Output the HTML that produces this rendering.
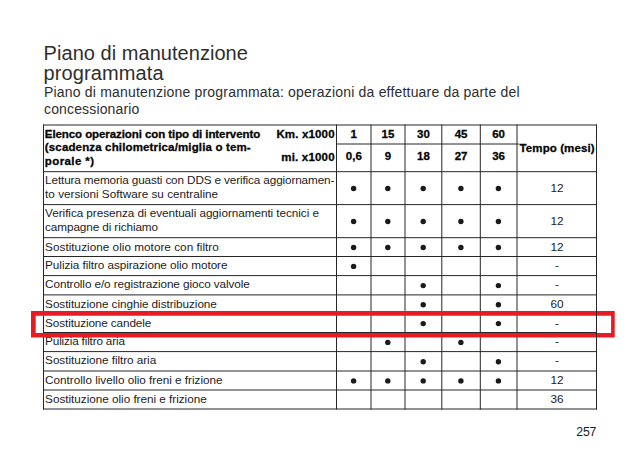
<!DOCTYPE html>
<html><head><meta charset="utf-8"><style>
html,body{margin:0;padding:0;background:#fff;width:640px;height:462px;overflow:hidden}
svg{display:block;font-family:"Liberation Sans", sans-serif}
</style></head><body>
<svg width="640" height="462" viewBox="0 0 640 462">
<g stroke="#262626" stroke-width="1">
<line x1="43.0" y1="125.0" x2="597.0" y2="125.0"/>
<line x1="43.0" y1="171.7" x2="597.0" y2="171.7"/>
<line x1="43.0" y1="204.6" x2="597.0" y2="204.6"/>
<line x1="43.0" y1="237.7" x2="597.0" y2="237.7"/>
<line x1="43.0" y1="256.5" x2="597.0" y2="256.5"/>
<line x1="43.0" y1="275.6" x2="597.0" y2="275.6"/>
<line x1="43.0" y1="294.9" x2="597.0" y2="294.9"/>
<line x1="43.0" y1="313.9" x2="597.0" y2="313.9"/>
<line x1="43.0" y1="332.5" x2="597.0" y2="332.5"/>
<line x1="43.0" y1="351.6" x2="597.0" y2="351.6"/>
<line x1="43.0" y1="371.0" x2="597.0" y2="371.0"/>
<line x1="43.0" y1="390.0" x2="597.0" y2="390.0"/>
<line x1="43.0" y1="409.0" x2="597.0" y2="409.0"/>
<line x1="336.5" y1="144.0" x2="518.8" y2="144.0"/>
<line x1="43.5" y1="124.5" x2="43.5" y2="409.5"/>
<line x1="336.5" y1="124.5" x2="336.5" y2="409.5"/>
<line x1="371.0" y1="124.5" x2="371.0" y2="409.5"/>
<line x1="405.0" y1="124.5" x2="405.0" y2="409.5"/>
<line x1="441.8" y1="124.5" x2="441.8" y2="409.5"/>
<line x1="480.3" y1="124.5" x2="480.3" y2="409.5"/>
<line x1="517.0" y1="124.5" x2="517.0" y2="409.5"/>
<line x1="596.5" y1="124.5" x2="596.5" y2="409.5"/>
</g>
<text x="43.6" y="60" font-size="20" fill="#2e2e2e" textLength="204.29" lengthAdjust="spacing">Piano di manutenzione</text>
<text x="43.6" y="80.1" font-size="20" fill="#2e2e2e" textLength="119.94" lengthAdjust="spacing">programmata</text>
<text x="44.0" y="96.6" font-size="14" fill="#2e2e2e" textLength="475.55" lengthAdjust="spacing">Piano di manutenzione programmata: operazioni da effettuare da parte del</text>
<text x="44.0" y="113.5" font-size="14" fill="#2e2e2e" textLength="95.35" lengthAdjust="spacing">concessionario</text>
<text x="44.8" y="137.5" font-size="11.5" font-weight="bold" fill="#050505" stroke="#050505" stroke-width="0.3" textLength="215.39" lengthAdjust="spacing">Elenco operazioni con tipo di intervento</text>
<text x="44.8" y="151.25" font-size="11.5" font-weight="bold" fill="#050505" stroke="#050505" stroke-width="0.3" textLength="205.9" lengthAdjust="spacing">(scadenza chilometrica/miglia o tem-</text>
<text x="44.8" y="165" font-size="11.5" font-weight="bold" fill="#050505" stroke="#050505" stroke-width="0.3" textLength="49.25" lengthAdjust="spacing">porale *)</text>
<text x="276.4" y="138" font-size="11.5" font-weight="bold" fill="#050505" stroke="#050505" stroke-width="0.3" textLength="58.18" lengthAdjust="spacing">Km. x1000</text>
<text x="281.2" y="160.5" font-size="11.5" font-weight="bold" fill="#050505" stroke="#050505" stroke-width="0.3" textLength="53.41" lengthAdjust="spacing">mi. x1000</text>
<text x="353.8" y="138" font-size="11.5" font-weight="bold" text-anchor="middle" fill="#050505" stroke="#050505" stroke-width="0.3">1</text>
<text x="353.8" y="160.1" font-size="11.5" font-weight="bold" text-anchor="middle" fill="#050505" stroke="#050505" stroke-width="0.3">0,6</text>
<text x="388.0" y="138" font-size="11.5" font-weight="bold" text-anchor="middle" fill="#050505" stroke="#050505" stroke-width="0.3">15</text>
<text x="388.0" y="160.1" font-size="11.5" font-weight="bold" text-anchor="middle" fill="#050505" stroke="#050505" stroke-width="0.3">9</text>
<text x="423.4" y="138" font-size="11.5" font-weight="bold" text-anchor="middle" fill="#050505" stroke="#050505" stroke-width="0.3">30</text>
<text x="423.4" y="160.1" font-size="11.5" font-weight="bold" text-anchor="middle" fill="#050505" stroke="#050505" stroke-width="0.3">18</text>
<text x="461.1" y="138" font-size="11.5" font-weight="bold" text-anchor="middle" fill="#050505" stroke="#050505" stroke-width="0.3">45</text>
<text x="461.1" y="160.1" font-size="11.5" font-weight="bold" text-anchor="middle" fill="#050505" stroke="#050505" stroke-width="0.3">27</text>
<text x="498.6" y="138" font-size="11.5" font-weight="bold" text-anchor="middle" fill="#050505" stroke="#050505" stroke-width="0.3">60</text>
<text x="498.6" y="160.1" font-size="11.5" font-weight="bold" text-anchor="middle" fill="#050505" stroke="#050505" stroke-width="0.3">36</text>
<text x="519.6" y="151.6" font-size="11.5" font-weight="bold" fill="#050505" stroke="#050505" stroke-width="0.3" textLength="74.91" lengthAdjust="spacing">Tempo (mesi)</text>
<text x="45.1" y="184.3" font-size="11.75" fill="#1c1c1c" textLength="289.28" lengthAdjust="spacing">Lettura memoria guasti con DDS e verifica aggiornamen-</text>
<text x="45.1" y="198.2" font-size="11.75" fill="#1c1c1c" textLength="172.98" lengthAdjust="spacing">to versioni Software su centraline</text>
<circle cx="353.6" cy="188.5" r="2.7" fill="#1a1a1a"/>
<circle cx="387.8" cy="188.5" r="2.7" fill="#1a1a1a"/>
<circle cx="423.2" cy="188.5" r="2.7" fill="#1a1a1a"/>
<circle cx="460.9" cy="188.5" r="2.7" fill="#1a1a1a"/>
<circle cx="498.4" cy="188.5" r="2.7" fill="#1a1a1a"/>
<text x="557.0" y="191.85" font-size="11.75" text-anchor="middle" fill="#1c1c1c">12</text>
<text x="45.1" y="217.2" font-size="11.75" fill="#1c1c1c" textLength="273.88" lengthAdjust="spacing">Verifica presenza di eventuali aggiornamenti tecnici e</text>
<text x="45.1" y="231.1" font-size="11.75" fill="#1c1c1c" textLength="112.95" lengthAdjust="spacing">campagne di richiamo</text>
<circle cx="353.6" cy="221.5" r="2.7" fill="#1a1a1a"/>
<circle cx="387.8" cy="221.5" r="2.7" fill="#1a1a1a"/>
<circle cx="423.2" cy="221.5" r="2.7" fill="#1a1a1a"/>
<circle cx="460.9" cy="221.5" r="2.7" fill="#1a1a1a"/>
<circle cx="498.4" cy="221.5" r="2.7" fill="#1a1a1a"/>
<text x="557.0" y="224.75" font-size="11.75" text-anchor="middle" fill="#1c1c1c">12</text>
<text x="45.1" y="250.5" font-size="11.75" fill="#1c1c1c" textLength="173.67" lengthAdjust="spacing">Sostituzione olio motore con filtro</text>
<circle cx="353.6" cy="247.5" r="2.7" fill="#1a1a1a"/>
<circle cx="387.8" cy="247.5" r="2.7" fill="#1a1a1a"/>
<circle cx="423.2" cy="247.5" r="2.7" fill="#1a1a1a"/>
<circle cx="460.9" cy="247.5" r="2.7" fill="#1a1a1a"/>
<circle cx="498.4" cy="247.5" r="2.7" fill="#1a1a1a"/>
<text x="557.0" y="250.5" font-size="11.75" text-anchor="middle" fill="#1c1c1c">12</text>
<text x="45.1" y="269.3" font-size="11.75" fill="#1c1c1c" textLength="182.4" lengthAdjust="spacing">Pulizia filtro aspirazione olio motore</text>
<circle cx="353.6" cy="266.4" r="2.7" fill="#1a1a1a"/>
<text x="557.0" y="269.3" font-size="11.75" text-anchor="middle" fill="#1c1c1c">-</text>
<text x="45.1" y="288.4" font-size="11.75" fill="#1c1c1c" textLength="204.72" lengthAdjust="spacing">Controllo e/o registrazione gioco valvole</text>
<circle cx="423.2" cy="285.6" r="2.7" fill="#1a1a1a"/>
<circle cx="498.4" cy="285.6" r="2.7" fill="#1a1a1a"/>
<text x="557.0" y="288.4" font-size="11.75" text-anchor="middle" fill="#1c1c1c">-</text>
<text x="45.1" y="307.7" font-size="11.75" fill="#1c1c1c" textLength="171.78" lengthAdjust="spacing">Sostituzione cinghie distribuzione</text>
<circle cx="423.2" cy="304.8" r="2.7" fill="#1a1a1a"/>
<circle cx="498.4" cy="304.8" r="2.7" fill="#1a1a1a"/>
<text x="557.0" y="307.7" font-size="11.75" text-anchor="middle" fill="#1c1c1c">60</text>
<text x="45.1" y="326.7" font-size="11.75" fill="#1c1c1c" textLength="106.23" lengthAdjust="spacing">Sostituzione candele</text>
<circle cx="423.2" cy="323.6" r="2.7" fill="#1a1a1a"/>
<circle cx="498.4" cy="323.6" r="2.7" fill="#1a1a1a"/>
<text x="557.0" y="326.7" font-size="11.75" text-anchor="middle" fill="#1c1c1c">-</text>
<text x="45.1" y="345.3" font-size="11.75" fill="#1c1c1c" textLength="79.87" lengthAdjust="spacing">Pulizia filtro aria</text>
<circle cx="387.8" cy="342.4" r="2.7" fill="#1a1a1a"/>
<circle cx="460.9" cy="342.4" r="2.7" fill="#1a1a1a"/>
<text x="557.0" y="345.3" font-size="11.75" text-anchor="middle" fill="#1c1c1c">-</text>
<text x="45.1" y="364.4" font-size="11.75" fill="#1c1c1c" textLength="111.12" lengthAdjust="spacing">Sostituzione filtro aria</text>
<circle cx="423.2" cy="361.7" r="2.7" fill="#1a1a1a"/>
<circle cx="498.4" cy="361.7" r="2.7" fill="#1a1a1a"/>
<text x="557.0" y="364.4" font-size="11.75" text-anchor="middle" fill="#1c1c1c">-</text>
<text x="45.1" y="383.8" font-size="11.75" fill="#1c1c1c" textLength="177.48" lengthAdjust="spacing">Controllo livello olio freni e frizione</text>
<circle cx="353.6" cy="380.9" r="2.7" fill="#1a1a1a"/>
<circle cx="387.8" cy="380.9" r="2.7" fill="#1a1a1a"/>
<circle cx="423.2" cy="380.9" r="2.7" fill="#1a1a1a"/>
<circle cx="460.9" cy="380.9" r="2.7" fill="#1a1a1a"/>
<circle cx="498.4" cy="380.9" r="2.7" fill="#1a1a1a"/>
<text x="557.0" y="383.8" font-size="11.75" text-anchor="middle" fill="#1c1c1c">12</text>
<text x="45.1" y="402.8" font-size="11.75" fill="#1c1c1c" textLength="161.63" lengthAdjust="spacing">Sostituzione olio freni e frizione</text>
<text x="557.0" y="402.8" font-size="11.75" text-anchor="middle" fill="#1c1c1c">36</text>
<text x="576.3" y="435.5" font-size="12.3" fill="#1c1c1c" textLength="20.03" lengthAdjust="spacing">257</text>
<path fill="#e61c24" fill-rule="evenodd" d="M31.0,311.0H614.7V337.4H31.0Z M35.7,315.7V333H611.1V315.7Z"/>
<line x1="596.5" y1="311.0" x2="596.5" y2="337.4" stroke="#262626" stroke-width="1"/>
</svg>
</body></html>
